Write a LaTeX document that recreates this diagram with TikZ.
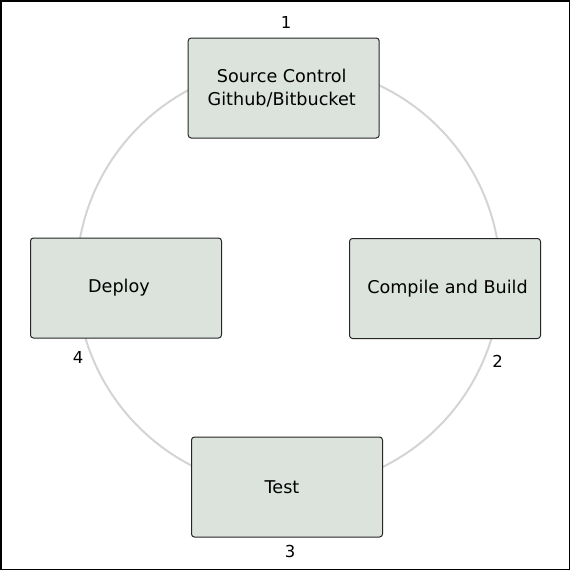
\documentclass[tikz,border=0pt]{standalone}
\usepackage{fontspec}
\setmainfont{DejaVu Sans}
\usepackage{tikz}
\definecolor{stagefill}{RGB}{220, 227, 221}
\definecolor{ringgray}{RGB}{212, 212, 212}
\tikzset{stage/.style={draw=black!85, fill=stagefill, rounded corners=3pt, line width=1pt, minimum width=191pt, minimum height=100pt, inner sep=0pt, align=center, font=\fontsize{17.6}{23}\selectfont}}
\tikzset{num/.style={inner sep=0pt, font=\fontsize{16.5}{19}\selectfont}}

\begin{document}
\begin{tikzpicture}[x=1pt, y=-1pt]
\useasboundingbox (0,0) rectangle (570,570);
\draw[line width=1.5pt] (0.75,0.75) rectangle (569.25,569.25);
\draw[ringgray, line width=2pt] (288.5,277) circle [radius=212pt];
\node[stage] (source) at (283.7,88) {\hspace*{-4pt}Source Control\\\hspace*{-4pt}Github/Bitbucket};
\node[stage] (build) at (445,288.5) {\hspace*{5pt}Compile and Build};
\node[stage] (test) at (287,487) {\hspace*{-10pt}Test};
\node[stage] (deploy) at (126,288) {\hspace*{-14pt}Deploy};
\node[num] (n1) at (286,22) {1};
\node[num] (n2) at (497.5,361) {2};
\node[num] (n3) at (290,551) {3};
\node[num] (n4) at (78,357) {4};
\end{tikzpicture}
\end{document}
